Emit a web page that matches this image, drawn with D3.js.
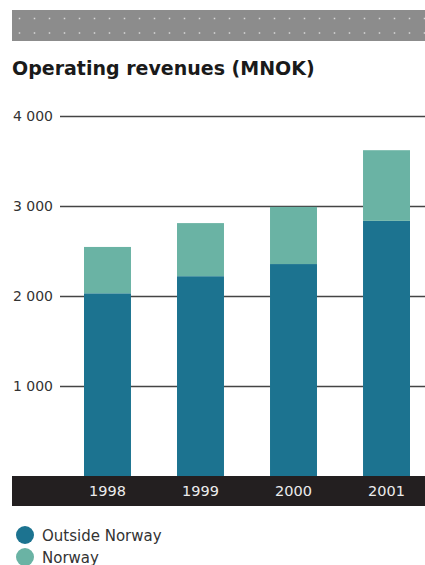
<!DOCTYPE html>
<html>
<head>
<meta charset="utf-8">
<script src="https://cdn.jsdelivr.net/npm/d3@7"></script>
<style>
  html, body { margin: 0; padding: 0; background: #fff; }
  svg { display: block; font-family: "DejaVu Sans", Verdana, sans-serif; }
</style>
</head>
<body>
<svg id="chart" width="425" height="565"></svg>
<script>
// Operating revenues by year, split by market (MNOK)
const years = ["1998", "1999", "2000", "2001"];
const outsideNorway = [2030, 2220, 2355, 2835];
const norway = [515, 590, 635, 785];
const yTicks = [1000, 2000, 3000, 4000];
const seriesNames = ["Outside Norway", "Norway"];
const seriesColors = ["#1c7390", "#6ab3a4"];

const svg = d3.select("#chart");
const W = 425;

// Dotted grey header strip
const header = svg.append("g");
header.append("rect").attr("x", 12).attr("y", 10).attr("width", W - 12).attr("height", 31).attr("fill", "#8c8c8c");
const dotX = d3.range(19.5, W, 15);
[18.5, 33].forEach(dy => {
  header.selectAll(null).data(dotX).join("rect")
    .attr("x", d => d - 0.75).attr("y", dy - 0.75)
    .attr("width", 1.5).attr("height", 1.5)
    .attr("fill", "#d8d8d8");
});

// Title
svg.append("text")
  .attr("x", 12).attr("y", 75)
  .attr("font-size", 19).attr("font-weight", "bold").attr("fill", "#1a1a1a")
  .text("Operating revenues (MNOK)");

// Scales
const x = d3.scaleBand().domain(years).range([61, 433]).paddingInner(0.495).paddingOuter(0.2473);
const y = d3.scaleLinear().domain([0, 4000]).range([476, 116]);

const fmt = d3.formatLocale({ decimal: ",", thousands: " ", grouping: [3], currency: ["", ""] }).format(",");

// Horizontal grid + value labels
const yAxis = svg.append("g")
  .attr("transform", "translate(60,0)")
  .call(d3.axisLeft(y).tickValues(yTicks).tickSize(-(W - 60)).tickPadding(7).tickFormat(fmt));
yAxis.select(".domain").remove();
yAxis.selectAll(".tick line").attr("stroke", "#444").attr("stroke-width", 1.4);
yAxis.selectAll(".tick text")
  .attr("font-family", "DejaVu Sans, Verdana, sans-serif")
  .attr("font-size", 14).attr("fill", "#333");

// Stacked bars
const rows = years.map((yr, i) => ({ year: yr, outside: outsideNorway[i], norway: norway[i] }));
const stack = d3.stack().keys(["outside", "norway"])(rows);
svg.append("g").selectAll("g").data(stack).join("g")
  .attr("fill", (d, i) => seriesColors[i])
  .selectAll("rect").data(d => d).join("rect")
  .attr("x", d => x(d.data.year))
  .attr("width", x.bandwidth())
  .attr("y", d => y(d[1]))
  .attr("height", d => y(d[0]) - y(d[1]));

// Dark category band
svg.append("rect").attr("x", 12).attr("y", y(0)).attr("width", W - 12).attr("height", 30).attr("fill", "#231f20");
const xAxis = svg.append("g")
  .attr("transform", `translate(0,${y(0)})`)
  .call(d3.axisBottom(x).tickSize(0).tickPadding(0));
xAxis.select(".domain").remove();
xAxis.selectAll(".tick text")
  .attr("y", 20).attr("dy", 0)
  .attr("font-family", "DejaVu Sans, Verdana, sans-serif")
  .attr("font-size", 14.5).attr("fill", "#ececec");

// Legend
const legend = svg.append("g").selectAll("g").data(seriesNames).join("g")
  .attr("transform", (d, i) => `translate(25,${535 + i * 22})`);
legend.append("circle").attr("r", 9).attr("fill", (d, i) => seriesColors[i]);
legend.append("text").attr("x", 17).attr("y", 5.5)
  .attr("font-size", 15).attr("fill", "#333").text(d => d);
</script>
</body>
</html>
